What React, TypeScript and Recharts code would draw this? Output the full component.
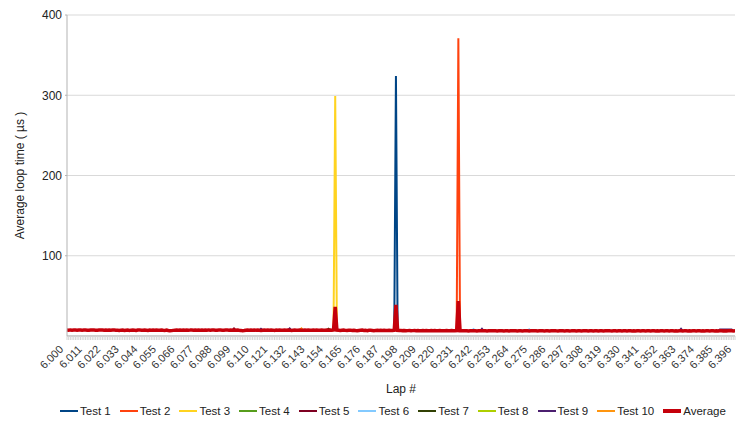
import React from 'react';
import { LineChart, Line, XAxis, YAxis, CartesianGrid, Legend, Label } from 'recharts';

// Lap categories 6.000 … 6.396
const laps: string[] = Array.from({ length: 397 }, (_, i) => (6 + i / 1000).toFixed(3));

// Average series, split in named pieces around the three spikes
const avgSeg1 = [
  7.4,7.2,7.6,7.3,7.5,7.4,7.2,7.5,7.6,7.3,7.4,7.5,7.2,7.3,7.6,7.4,7.5,7.3,7.2,7.4,
  7.5,7.6,7.3,7.4,7.2,7.5,7.3,7.6,7.4,7.2,7.1,6.8,7.3,7.5,6.9,7.2,7.4,7.0,7.3,7.5,
  7.2,6.9,7.4,7.6,7.1,7.3,7.5,7.2,6.9,7.4,7.3,7.5,7.2,7.4,7.1,7.3,7.5,7.2,7.0,7.3,
  6.8,6.6,6.7,7.0,7.3,7.4,7.2,7.5,7.3,7.4,7.2,7.5,7.3,7.4,7.6,7.3,7.5,7.2,7.4,7.3,
  7.5,7.3,7.4,7.2,7.6,7.3,7.5,7.4,7.2,7.3,7.5,7.4,7.2,7.3,7.5,7.4,7.3,7.5,7.2,7.4,
  7.3,7.5,7.2,7.0,6.7,6.9,7.2,7.4,7.3,7.5,7.2,7.4,7.3,7.5,7.1,6.8,7.2,7.4,7.3,7.5,
  7.2,7.4,7.3,7.0,7.4,7.2,7.5,7.3,7.1,7.4,7.2,7.5,7.3,7.0,7.2,7.4,7.3,7.1,7.4,7.2,
  7.3,7.5,7.2,7.4,7.1,7.3,7.5,7.2,7.4,7.3,7.1,7.4,7.2,7.3,7.5,7.2,7.4,7.3,7.5,
];
const avgPeak1 = [36.2];
const avgSeg2 = [
  7.3,7.1,6.9,7.2,7.4,7.0,6.8,7.1,7.3,6.9,7.2,6.8,6.6,6.9,7.1,7.3,6.8,7.0,6.7,7.2,
  7.1,6.9,6.7,7.0,7.2,6.8,7.1,6.9,7.2,7.0,6.8,7.1,7.0,6.9,7.2,
];
const avgPeak2 = [38.7];
const avgSeg3 = [
  7.0,6.8,6.9,6.7,6.8,6.6,6.7,6.9,6.6,6.7,6.8,6.6,6.7,6.5,6.6,6.8,6.6,6.7,6.6,6.5,
  6.7,6.6,6.8,6.6,6.5,6.7,6.6,6.5,6.6,6.7,6.5,6.6,6.7,6.6,6.5,6.7,
];
const avgPeak3 = [43.4];
const avgSeg4 = [
  6.6,6.5,6.4,6.6,6.5,6.3,6.5,6.6,6.4,6.5,6.3,6.5,6.4,6.6,6.5,6.4,6.3,6.5,6.4,6.6,
  6.5,6.4,6.3,6.5,6.4,6.6,6.3,6.5,6.4,6.3,6.5,6.4,6.6,6.5,6.3,6.4,6.5,6.3,6.4,6.5,
  6.4,6.3,6.5,6.4,6.6,6.5,6.3,6.4,6.5,6.4,6.3,6.5,6.4,6.3,6.5,6.4,6.6,6.4,6.3,6.5,
  6.4,6.5,6.3,6.4,6.5,6.3,6.4,6.6,6.5,6.3,6.4,6.5,6.3,6.4,6.5,6.4,6.3,6.5,6.4,6.3,
  6.5,6.4,6.3,6.5,6.4,6.3,6.5,6.4,6.6,6.4,6.3,6.5,6.4,6.3,6.5,6.4,6.3,6.4,6.5,6.3,
  6.4,6.5,6.3,6.4,6.3,6.5,6.4,6.3,6.5,6.4,6.3,6.4,6.5,6.3,6.4,6.5,6.3,6.4,6.3,6.5,
  6.4,6.3,6.5,6.4,6.3,6.4,6.5,6.3,6.4,6.3,6.5,6.4,6.3,6.4,6.5,6.3,6.4,6.3,6.5,6.4,
  6.3,6.4,6.5,6.3,6.4,6.3,6.5,6.4,6.3,6.4,6.5,6.3,6.4,6.3,6.4,6.5,6.3,6.4,6.3,6.4,
  6.5,6.4,6.3,6.4,
];
const average: number[] = [...avgSeg1, ...avgPeak1, ...avgSeg2, ...avgPeak2, ...avgSeg3, ...avgPeak3, ...avgSeg4];

// Individual tests: only the visible parts (lap index, value); the rest is hidden under the average
const test1Pts: [number, number][] = [[193, 7.1], [194, 7.2], [195, 324], [196, 7.0], [197, 6.8]];
const test2Pts: [number, number][] = [[230, 6.6], [231, 6.7], [232, 371], [233, 6.6], [234, 6.5]];
const test3Pts: [number, number][] = [[157, 7.3], [158, 7.5], [159, 299], [160, 7.3], [161, 7.1]];
const test4Pts: [number, number][] = [];
const test5Pts: [number, number][] = [[98, 7.3], [99, 9.5], [100, 7.3]];
const test6Pts: [number, number][] = [[240, 6.5], [241, 8.5], [242, 6.5], [273, 6.4], [274, 8.2], [275, 6.3]];
const test7Pts: [number, number][] = [[154, 7.2], [155, 9.0], [156, 7.3]];
const test8Pts: [number, number][] = [];
const test9Pts: [number, number][] = [
  [114, 7.1], [115, 9.0], [116, 7.2], [131, 7.3], [132, 9.5], [133, 7.2],
  [245, 6.4], [246, 9.0], [247, 6.4], [363, 6.4], [364, 9.0], [365, 6.3],
  [386, 6.4], [387, 8.0], [388, 8.0], [389, 8.0], [390, 8.0], [391, 8.0], [392, 8.0], [393, 8.0], [394, 8.0], [395, 6.4],
];
const test10Pts: [number, number][] = [[138, 7.2], [139, 9.5], [140, 7.3]];

const series = [
  { key: 't1', name: 'Test 1', color: '#004586', pts: test1Pts },
  { key: 't2', name: 'Test 2', color: '#ff420e', pts: test2Pts },
  { key: 't3', name: 'Test 3', color: '#ffd320', pts: test3Pts },
  { key: 't4', name: 'Test 4', color: '#579d1c', pts: test4Pts },
  { key: 't5', name: 'Test 5', color: '#7e0021', pts: test5Pts },
  { key: 't6', name: 'Test 6', color: '#83caff', pts: test6Pts },
  { key: 't7', name: 'Test 7', color: '#314004', pts: test7Pts },
  { key: 't8', name: 'Test 8', color: '#aecf00', pts: test8Pts },
  { key: 't9', name: 'Test 9', color: '#4b1f6f', pts: test9Pts },
  { key: 't10', name: 'Test 10', color: '#ff950e', pts: test10Pts },
];
const avgColor = '#c5000b';

const yTicks = [100, 200, 300, 400];

const data = laps.map((lap, i) => {
  const row: Record<string, any> = { lap, avg: average[i] ?? null };
  series.forEach((s) => { row[s.key] = null; });
  return row;
});
series.forEach((s) => s.pts.forEach(([i, v]) => { data[i][s.key] = v; }));

const FONT = '"Liberation Sans", Arial, sans-serif';

const XTick = (props: any) => {
  const { x, y, payload, index } = props;
  const idx = typeof index === 'number' ? index : laps.indexOf(payload.value);
  if (idx % 11 !== 0) return <g />;
  const ax = x - 3;
  const ay = y + 8;
  return (
    <text x={ax} y={ay} transform={`rotate(-45, ${ax}, ${ay})`} textAnchor="end" fontSize={11}
      fill="#333" fontFamily={FONT}>
      {payload.value}
    </text>
  );
};

const YLabel = (props: any) => {
  const vb = props.viewBox || { x: 0, y: 15, width: 67, height: 321 };
  const cx = 20;
  const cy = vb.y + vb.height / 2;
  return (
    <text x={cx} y={cy} transform={`rotate(-90, ${cx}, ${cy})`} textAnchor="middle"
      dominantBaseline="central" fontSize={12} fill="#222" fontFamily={FONT}>
      Average loop time ( µs )
    </text>
  );
};

const renderLegend = () => {
  const items = [...series.map((s) => ({ name: s.name, color: s.color, w: 2.5 })), { name: 'Average', color: avgColor, w: 4 }];
  return (
    <div style={{ height: 24, display: 'flex', justifyContent: 'flex-start', alignItems: 'center',
      paddingLeft: 60, fontFamily: FONT, fontSize: 11.5, color: '#222' }}>
      {items.map((it) => (
        <div key={it.name} style={{ display: 'flex', alignItems: 'center', marginRight: 9 }}>
          <span style={{ display: 'inline-block', width: 18, height: it.w, background: it.color, marginRight: 2 }} />
          <span>{it.name}</span>
        </div>
      ))}
    </div>
  );
};

export default function App() {
  return (
    <div style={{ position: 'absolute', left: 0, top: 0, background: '#fff' }}>
      <LineChart width={748} height={428} data={data}
        margin={{ top: 15, right: 13, bottom: 5, left: 0 }}
        style={{ fontFamily: FONT }}>
        <CartesianGrid vertical={false} stroke="#d9d9d9" />
        <XAxis dataKey="lap" interval={0} tick={<XTick />} tickSize={4}
          tickLine={{ stroke: '#d4d4d4' }} axisLine={{ stroke: '#b3b3b3' }} height={63}>
          <Label value="Lap #" position="insideBottom" offset={6} fontSize={12} fill="#222" />
        </XAxis>
        <YAxis width={67} domain={[0, 400]} ticks={yTicks} interval={0} tickSize={2} tickMargin={3}
          tick={{ fontSize: 12, fill: '#222' }} axisLine={{ stroke: '#b3b3b3' }} tickLine={{ stroke: '#b3b3b3' }}>
          <Label content={<YLabel />} />
        </YAxis>
        <Legend verticalAlign="bottom" content={renderLegend} />
        {series.map((s) => (
          <Line key={s.key} type="linear" dataKey={s.key} name={s.name} stroke={s.color}
            strokeWidth={2} dot={false} isAnimationActive={false} connectNulls={false} />
        ))}
        <Line type="linear" dataKey="avg" name="Average" stroke={avgColor} strokeWidth={3.5}
          dot={false} isAnimationActive={false} />
      </LineChart>
    </div>
  );
}
